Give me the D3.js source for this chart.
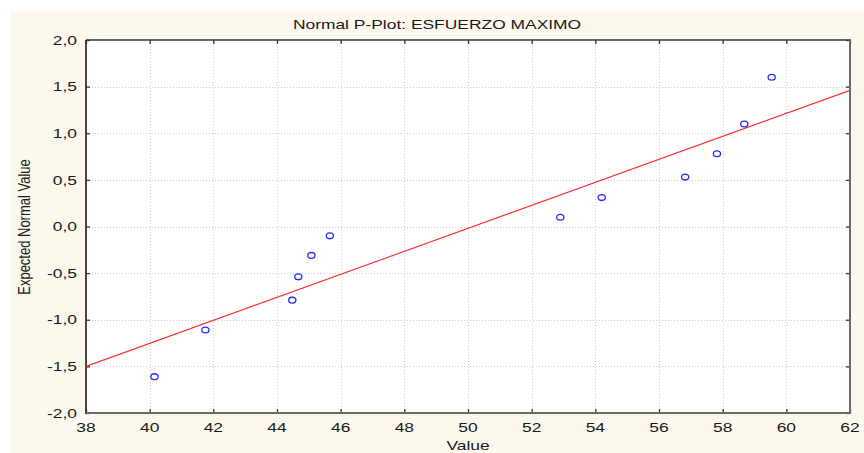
<!DOCTYPE html>
<html>
<head>
<meta charset="utf-8">
<script src="https://cdn.jsdelivr.net/npm/d3@7"></script>
<style>
  body { margin: 0; background: #ffffff; }
  svg { display: block; }
  text { font-family: "Liberation Sans", Arial, sans-serif; fill: #1a1a1a; }
</style>
</head>
<body>
<svg id="chart" width="864" height="453"></svg>
<script>
// Normal probability plot of ESFUERZO MAXIMO
const title = "Normal P-Plot: ESFUERZO MAXIMO";
const xLabel = "Value";
const yLabel = "Expected Normal Value";

// observed values (sorted) and their expected normal scores
const values = [40.15, 41.75, 44.48, 44.67, 45.08, 45.66, 52.90, 54.20, 56.82, 57.82, 58.68, 59.54];
const expectedNormal = [-1.61, -1.11, -0.79, -0.54, -0.31, -0.10, 0.10, 0.31, 0.53, 0.78, 1.10, 1.60];

// reference line endpoints
const fitX = [38, 62];
const fitY = [-1.50, 1.46];

// axis ticks
const xTicks = [38, 40, 42, 44, 46, 48, 50, 52, 54, 56, 58, 60, 62];
const yTicks = [-2.0, -1.5, -1.0, -0.5, 0.0, 0.5, 1.0, 1.5, 2.0];

const W = 864, H = 453;
const plot = { left: 86, right: 850, top: 40, bottom: 413 };
const stretch = 1.34;      // wide glyphs
const fontSize = 13;

const svg = d3.select("#chart");

const x = d3.scaleLinear().domain([38, 62]).range([plot.left, plot.right]);
const y = d3.scaleLinear().domain([-2, 2]).range([plot.bottom, plot.top]);

const locale = d3.formatLocale({ decimal: ",", thousands: ".", grouping: [3], currency: ["", ""], minus: "-" });
const fmtY = locale.format(".1f");
const fmtX = locale.format("d");

// outer panel
svg.append("rect").attr("x", 11).attr("y", 11).attr("width", W - 11).attr("height", H - 11)
  .attr("fill", "#fdf8ed");

// plot area
svg.append("rect")
  .attr("x", plot.left).attr("y", plot.top)
  .attr("width", plot.right - plot.left).attr("height", plot.bottom - plot.top)
  .attr("fill", "#ffffff");

// grid
const grid = svg.append("g").attr("stroke", "#c9c9c9").attr("stroke-width", 1).attr("stroke-dasharray", "1,2");
grid.selectAll("line.gx").data(xTicks.slice(1, -1)).join("line")
  .attr("x1", d => Math.round(x(d)) + 0.5).attr("x2", d => Math.round(x(d)) + 0.5)
  .attr("y1", plot.top).attr("y2", plot.bottom);
grid.selectAll("line.gy").data(yTicks.slice(1, -1)).join("line")
  .attr("y1", d => Math.round(y(d)) + 0.5).attr("y2", d => Math.round(y(d)) + 0.5)
  .attr("x1", plot.left).attr("x2", plot.right);

// inward ticks on all four sides
const tickLen = 4;
const axisStyle = g => g.call(s => s.select(".domain").remove())
  .call(s => s.selectAll(".tick line").attr("stroke", "#333333").attr("stroke-width", 1.3))
  .call(s => s.selectAll(".tick text").remove());

svg.append("g").attr("transform", `translate(0,${plot.bottom})`)
  .call(d3.axisBottom(x).tickValues(xTicks).tickSizeInner(-tickLen).tickSizeOuter(0)).call(axisStyle);
svg.append("g").attr("transform", `translate(0,${plot.top})`)
  .call(d3.axisTop(x).tickValues(xTicks).tickSizeInner(-tickLen).tickSizeOuter(0)).call(axisStyle);
svg.append("g").attr("transform", `translate(${plot.left},0)`)
  .call(d3.axisLeft(y).tickValues(yTicks).tickSizeInner(-tickLen).tickSizeOuter(0)).call(axisStyle);
svg.append("g").attr("transform", `translate(${plot.right},0)`)
  .call(d3.axisRight(y).tickValues(yTicks).tickSizeInner(-tickLen).tickSizeOuter(0)).call(axisStyle);

// frame
const frame = svg.append("g").attr("fill", "none");
frame.append("line").attr("x1", plot.left).attr("x2", plot.right + 1).attr("y1", plot.top).attr("y2", plot.top)
  .attr("stroke", "#333333").attr("stroke-width", 1.6);
frame.append("line").attr("x1", plot.left).attr("x2", plot.left).attr("y1", plot.top).attr("y2", plot.bottom + 1)
  .attr("stroke", "#333333").attr("stroke-width", 1.8);
frame.append("line").attr("x1", plot.left).attr("x2", plot.right + 1).attr("y1", plot.bottom).attr("y2", plot.bottom)
  .attr("stroke", "#6a6a6a").attr("stroke-width", 2);
frame.append("line").attr("x1", plot.right).attr("x2", plot.right).attr("y1", plot.top).attr("y2", plot.bottom + 1)
  .attr("stroke", "#6a6a6a").attr("stroke-width", 2);

// tick labels (drawn wide)
const wideText = (sel, tx, ty, anchor, str, size) => sel.append("g")
  .attr("transform", `translate(${tx},${ty}) scale(${stretch},1)`)
  .append("text").attr("text-anchor", anchor).attr("font-size", size || fontSize).text(str);

const labels = svg.append("g");
xTicks.forEach(t => wideText(labels, x(t), 431.5, "middle", fmtX(t)));
yTicks.forEach(t => wideText(labels, plot.left - 9, y(t) + 4.7, "end", fmtY(t)));

// title and axis titles
wideText(svg, 437, 28.5, "middle", title);
wideText(svg, (plot.left + plot.right) / 2, 450, "middle", xLabel);
svg.append("text")
  .attr("transform", `translate(30,227) rotate(-90) scale(1,${stretch})`)
  .attr("text-anchor", "middle").attr("font-size", fontSize)
  .text(yLabel);

// clip marks to plot area
svg.append("clipPath").attr("id", "plot-clip").append("rect")
  .attr("x", plot.left).attr("y", plot.top)
  .attr("width", plot.right - plot.left).attr("height", plot.bottom - plot.top);

// reference line
const line = d3.line().x(d => x(d[0])).y(d => y(d[1]));
svg.append("path")
  .datum(d3.zip(fitX, fitY))
  .attr("clip-path", "url(#plot-clip)")
  .attr("d", line)
  .attr("fill", "none").attr("stroke", "#ff2a2a").attr("stroke-width", 1.1);

// observed points
svg.append("g").selectAll("ellipse").data(d3.zip(values, expectedNormal)).join("ellipse")
  .attr("cx", d => x(d[0])).attr("cy", d => y(d[1]))
  .attr("rx", 3.6).attr("ry", 2.9)
  .attr("fill", "none").attr("stroke", "#2a2aff").attr("stroke-width", 1.3);
</script>
</body>
</html>
